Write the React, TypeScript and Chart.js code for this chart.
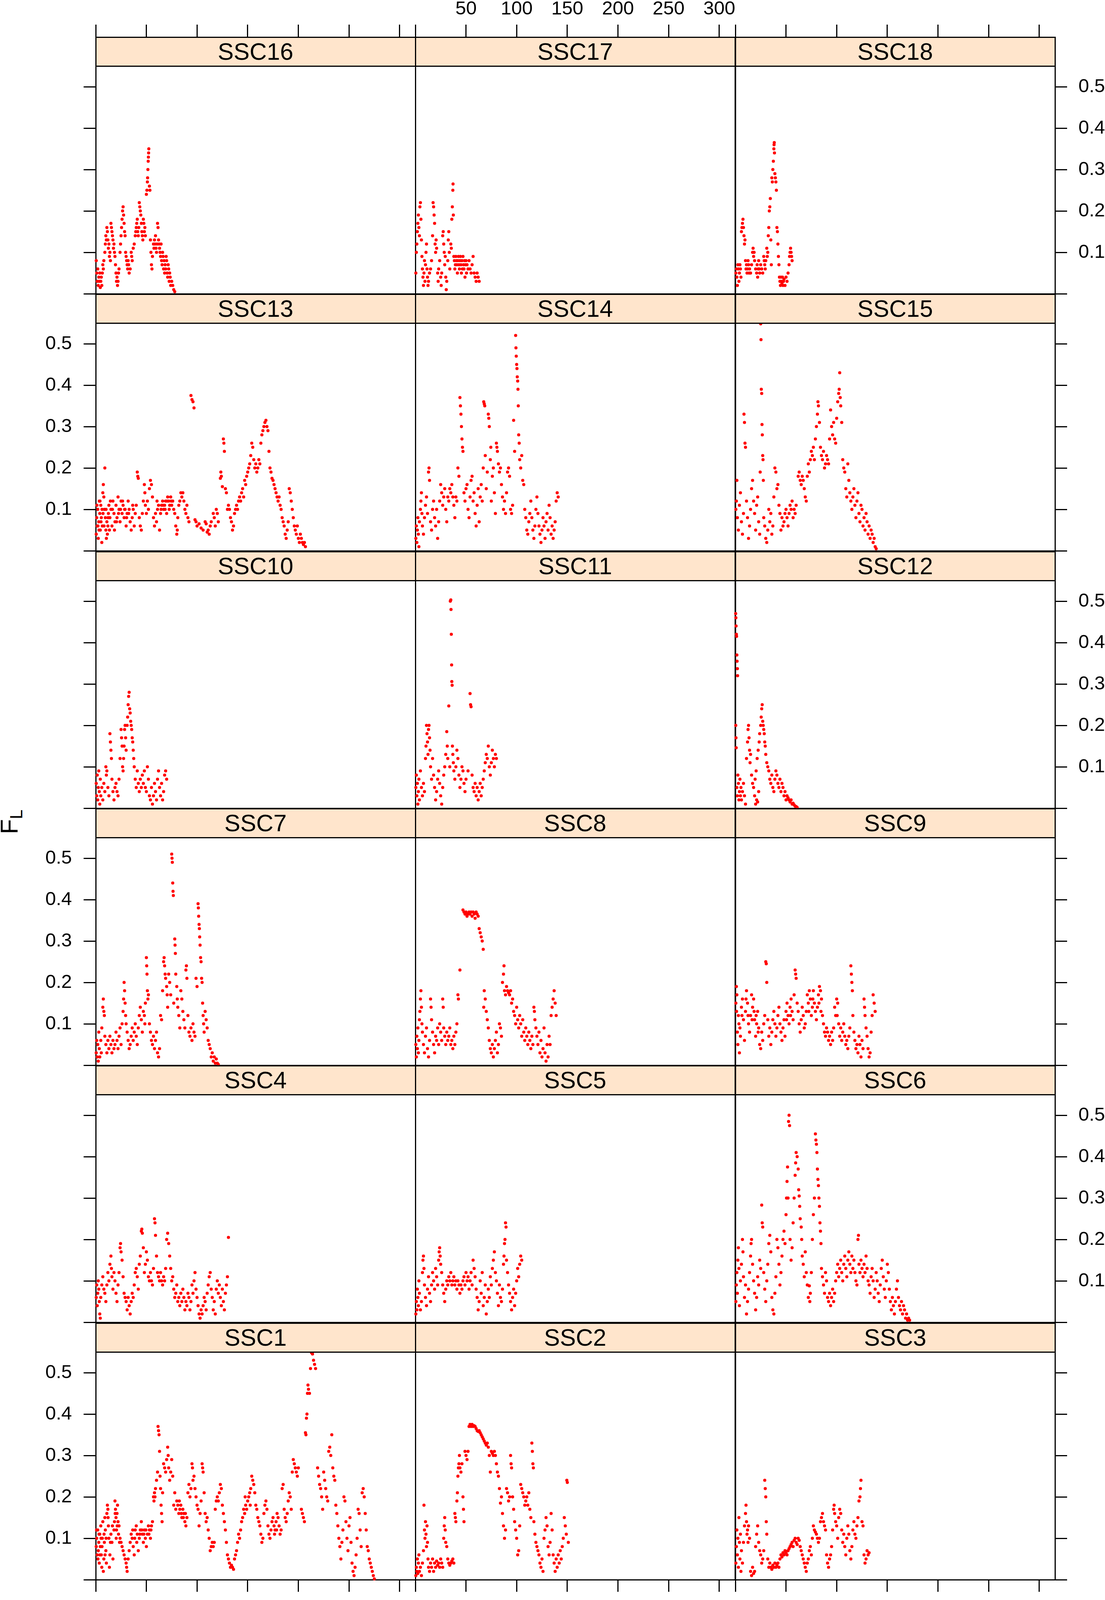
import React, { useEffect, useRef } from 'react';
import { Chart, registerables } from 'chart.js';

Chart.register(...registerables);

const FONT = "'Liberation Sans', Arial, Helvetica, sans-serif";

// tick values shared by every panel
const xTicks = [0, 50, 100, 150, 200, 250, 300];
const yTicks = [0, 0.1, 0.2, 0.3, 0.4, 0.5];

// F_L along each chromosome: [position (Mb), F_L]
const SSC16 = [[0.5,0.08],[1,0.05],[1.5,0.03],[2,0.06],[2.5,0.02],[3,0.04],[3.5,0.03],[4,0.05],[4.5,0.015],[5,0.03],[5.5,0.04],[6,0.02],[6.5,0.05],[7,0.07],[7.5,0.06],[8,0.08],[9,0.1],[9.5,0.12],[10,0.14],[10.5,0.13],[11,0.16],[11.5,0.15],[12,0.13],[12.5,0.11],[13,0.12],[13.5,0.09],[14,0.1],[14.5,0.08],[15,0.17],[15.5,0.16],[16,0.15],[16.5,0.14],[17,0.13],[17.5,0.11],[18,0.12],[18.5,0.1],[19,0.09],[19.5,0.07],[20,0.05],[20.5,0.03],[21,0.04],[21.5,0.02],[22,0.03],[22.5,0.05],[23,0.06],[24,0.1],[24.5,0.12],[25,0.14],[25.5,0.16],[26,0.18],[26.5,0.2],[27,0.21],[27.5,0.19],[28,0.17],[28.5,0.15],[29,0.14],[29.5,0.1],[30,0.09],[30.5,0.08],[31,0.07],[31.5,0.06],[32,0.08],[32.5,0.07],[33,0.05],[34,0.06],[35,0.1],[35.5,0.09],[36,0.08],[37,0.11],[38,0.12],[39,0.14],[39.5,0.15],[40,0.16],[40.5,0.17],[41,0.18],[41.5,0.15],[42,0.14],[42.5,0.16],[43,0.22],[43.5,0.21],[44,0.2],[44.5,0.19],[45,0.17],[45.5,0.15],[46,0.14],[46.5,0.13],[47,0.18],[47.5,0.17],[48,0.15],[48.5,0.16],[49,0.14],[50,0.24],[50.5,0.25],[51,0.27],[51.2,0.28],[51.5,0.3],[51.8,0.32],[52,0.33],[52.2,0.34],[52.4,0.35],[53,0.26],[53.5,0.25],[54,0.13],[54.5,0.1],[55,0.07],[55.5,0.06],[56,0.09],[57,0.12],[57.5,0.11],[58,0.13],[58.5,0.12],[59,0.14],[59.5,0.11],[60,0.1],[60.5,0.12],[61,0.17],[61.5,0.16],[62,0.13],[62.5,0.12],[63,0.11],[63.5,0.1],[64,0.09],[64.5,0.12],[65,0.08],[65.5,0.07],[66,0.1],[66.5,0.09],[67,0.06],[67.5,0.08],[68,0.05],[68.5,0.07],[69,0.06],[69.5,0.09],[70,0.08],[70.5,0.05],[71,0.04],[71.5,0.07],[72,0.06],[72.5,0.03],[73,0.05],[73.5,0.04],[74,0.02],[75,0.03],[76,0.02],[77,0.01],[78,0.005]];

const SSC17 = [[0.5,0.05],[1,0.1],[1.5,0.12],[2,0.15],[2.5,0.17],[3,0.19],[3.5,0.16],[4,0.14],[4.5,0.21],[5,0.22],[5.5,0.18],[6,0.13],[6.5,0.09],[7,0.06],[7.5,0.04],[8,0.02],[8.5,0.05],[9,0.08],[9.5,0.03],[10,0.07],[10.5,0.1],[11,0.12],[11.5,0.06],[12,0.04],[12.5,0.02],[13,0.03],[14,0.05],[15,0.06],[16,0.08],[17,0.14],[17.5,0.22],[18,0.21],[18.5,0.19],[19,0.17],[19.5,0.12],[20,0.1],[20.5,0.13],[21,0.11],[22,0.05],[22.5,0.03],[23,0.06],[24,0.08],[25,0.04],[25.5,0.02],[26,0.05],[27,0.14],[27.5,0.15],[28,0.12],[28.5,0.1],[29,0.07],[29.5,0.09],[30,0.04],[30.5,0.01],[31,0.03],[32,0.08],[32.5,0.13],[33,0.15],[33.5,0.1],[34,0.06],[35,0.12],[35.5,0.11],[36,0.18],[36.5,0.21],[37,0.25],[37.2,0.265],[37.5,0.19],[38,0.09],[38.5,0.08],[39,0.06],[39.5,0.07],[40,0.09],[40.5,0.08],[41,0.07],[41.5,0.05],[42,0.08],[42.5,0.09],[43,0.07],[43.5,0.06],[44,0.08],[44.5,0.09],[45,0.07],[45.5,0.05],[46,0.08],[46.5,0.06],[47,0.09],[47.5,0.07],[48,0.06],[48.5,0.08],[49,0.04],[49.5,0.07],[50,0.08],[50.5,0.05],[51,0.07],[52,0.06],[53,0.08],[54,0.06],[55,0.05],[56,0.07],[57,0.09],[58,0.05],[59,0.04],[60,0.03],[61,0.05],[62,0.04],[63,0.03]];

const SSC18 = [[0.5,0.05],[1,0.06],[1.5,0.04],[2,0.02],[2.5,0.07],[3,0.06],[3.5,0.03],[4,0.05],[4.5,0.07],[5,0.06],[5.5,0.04],[6,0.15],[6.5,0.16],[7,0.17],[7.5,0.18],[8,0.16],[8.5,0.14],[9,0.12],[9.5,0.13],[10,0.08],[10.5,0.06],[11,0.07],[11.5,0.05],[12,0.06],[12.5,0.08],[13,0.07],[13.5,0.05],[14,0.06],[15,0.05],[16,0.07],[17,0.1],[17.5,0.11],[18,0.09],[18.5,0.1],[19,0.08],[20,0.06],[21,0.05],[21.5,0.07],[22,0.04],[22.5,0.06],[23,0.08],[23.5,0.06],[24,0.05],[25,0.07],[26,0.06],[27,0.05],[28,0.09],[28.5,0.08],[29,0.07],[29.5,0.06],[30,0.08],[31,0.11],[31.5,0.09],[32,0.1],[32.5,0.14],[33,0.16],[33.5,0.2],[34,0.21],[34.5,0.23],[35,0.13],[35.5,0.07],[36,0.28],[36.5,0.27],[37,0.3],[37.5,0.32],[38,0.35],[38.2,0.36],[38.4,0.365],[38.6,0.34],[39,0.29],[39.5,0.28],[40,0.27],[40.5,0.25],[41,0.16],[41.5,0.15],[42,0.12],[42.5,0.09],[43,0.07],[43.5,0.04],[44,0.03],[44.5,0.02],[45,0.04],[45.5,0.03],[46,0.025],[46.5,0.04],[47,0.02],[47.5,0.03],[48,0.035],[49,0.02],[50,0.04],[51,0.03],[52,0.05],[53,0.07],[53.5,0.09],[54,0.1],[54.5,0.11],[55,0.1],[55.5,0.09],[56,0.08]];

const SSC13 = [[0.5,0.04],[1,0.08],[1.5,0.06],[2,0.1],[2.5,0.03],[3,0.07],[3.5,0.12],[4,0.09],[4.5,0.05],[5,0.11],[5.5,0.08],[6,0.02],[6.5,0.06],[7,0.14],[7.5,0.16],[8,0.13],[8.5,0.1],[9,0.2],[9.5,0.08],[10,0.05],[10.5,0.03],[11,0.07],[11.5,0.04],[12,0.06],[12.5,0.09],[13,0.11],[13.5,0.05],[14,0.08],[15,0.1],[16,0.06],[17,0.12],[18,0.09],[19,0.07],[20,0.11],[21,0.08],[22,0.13],[23,0.1],[24,0.07],[25,0.12],[26,0.09],[27,0.11],[28,0.08],[29,0.1],[30,0.06],[31,0.09],[32,0.12],[33,0.1],[34,0.07],[35,0.05],[36,0.08],[37,0.1],[38,0.06],[39,0.09],[40,0.11],[41,0.19],[41.5,0.18],[42,0.175],[43,0.08],[44,0.06],[45,0.05],[46,0.09],[47,0.12],[48,0.16],[48.5,0.14],[49,0.11],[50,0.09],[51,0.12],[52,0.1],[53,0.15],[54,0.17],[55,0.16],[56,0.13],[57,0.08],[58,0.06],[59,0.09],[60,0.07],[61,0.1],[62,0.11],[63,0.05],[64,0.09],[65,0.11],[66,0.12],[67,0.1],[68,0.11],[69,0.12],[70,0.09],[71,0.13],[72,0.12],[73,0.11],[74,0.13],[75,0.11],[76,0.12],[77,0.1],[78,0.09],[79,0.06],[80,0.04],[80.5,0.05],[81,0.08],[82,0.11],[83,0.12],[84,0.14],[85,0.13],[86,0.14],[87,0.12],[88,0.1],[89,0.09],[90,0.11],[91,0.08],[92,0.07],[94,0.375],[95,0.365],[96,0.36],[97,0.345],[98,0.075],[99,0.07],[100,0.06],[102,0.065],[104,0.055],[106,0.05],[108,0.07],[109,0.065],[110,0.045],[111,0.05],[112,0.04],[113,0.06],[114,0.07],[116,0.09],[117,0.08],[118,0.06],[119,0.1],[120,0.09],[121,0.07],[123,0.175],[123.5,0.19],[124,0.18],[125,0.155],[126,0.27],[126.5,0.26],[127,0.24],[128,0.15],[129,0.14],[130,0.1],[131,0.11],[132,0.1],[133,0.08],[134,0.07],[135,0.05],[136,0.06],[137,0.09],[138,0.1],[139,0.11],[140,0.1],[141,0.12],[142,0.13],[143,0.12],[144,0.14],[145,0.15],[146,0.13],[147,0.17],[148,0.16],[149,0.18],[150,0.19],[151,0.2],[152,0.21],[153,0.23],[154,0.26],[155,0.25],[156,0.22],[157,0.2],[158,0.21],[159,0.19],[160,0.2],[161,0.22],[162,0.21],[163,0.26],[164,0.28],[165,0.29],[166,0.3],[167,0.31],[168,0.315],[169,0.3],[170,0.29],[171,0.24],[172,0.2],[173,0.19],[174,0.175],[175,0.17],[176,0.16],[177,0.15],[178,0.14],[179,0.13],[180,0.12],[181,0.13],[182,0.11],[183,0.1],[184,0.08],[185,0.07],[186,0.06],[187,0.04],[188,0.03],[189,0.05],[190,0.07],[191,0.15],[192,0.14],[193,0.12],[194,0.1],[195,0.08],[196,0.06],[197,0.05],[198,0.04],[199,0.06],[200,0.03],[201,0.02],[202,0.04],[203,0.03],[204,0.02],[205,0.015],[206,0.02],[207,0.01],[1.2,0.11],[2.2,0.06],[3.2,0.05],[4.2,0.12],[5.2,0.07],[6.2,0.1],[7.2,0.09],[8.2,0.06],[10.2,0.1],[12.2,0.08],[14.5,0.12],[16.5,0.1],[18.5,0.05],[20.5,0.07],[22.5,0.09],[24.5,0.1],[26.5,0.12],[28.5,0.1],[30.5,0.08],[32.5,0.09],[36.5,0.11],[60.5,0.12],[64.5,0.1],[66.5,0.11],[68.5,0.1],[70.5,0.12],[72.5,0.1],[74.5,0.12]];

const SSC14 = [[0.5,0.03],[1,0.06],[1.5,0.02],[2,0.05],[2.5,0.08],[3,0.04],[3.5,0.01],[4,0.07],[5,0.1],[5.5,0.12],[6,0.14],[6.5,0.09],[7,0.06],[8,0.04],[9,0.08],[10,0.11],[11,0.13],[12,0.09],[13,0.19],[13.5,0.2],[14,0.17],[15,0.07],[16,0.05],[17,0.1],[18,0.12],[19,0.08],[20,0.06],[21,0.1],[22,0.03],[23,0.07],[24,0.12],[25,0.16],[26,0.14],[27,0.11],[28,0.13],[29,0.15],[30,0.1],[31,0.07],[32,0.13],[33,0.12],[34,0.15],[35,0.14],[36,0.16],[37,0.13],[38,0.11],[39,0.08],[40,0.13],[41,0.12],[42,0.2],[43,0.18],[44,0.37],[44.5,0.35],[45,0.33],[45.5,0.3],[46,0.27],[46.5,0.25],[47,0.24],[48,0.14],[49,0.12],[50,0.15],[51,0.16],[52,0.1],[53,0.08],[54,0.13],[55,0.17],[56,0.18],[57,0.12],[58,0.14],[59,0.09],[60,0.06],[61,0.11],[62,0.15],[63,0.07],[64,0.13],[65,0.16],[66,0.12],[67,0.2],[67.5,0.36],[68,0.355],[68.5,0.35],[69,0.23],[70,0.15],[71,0.19],[72,0.33],[72.5,0.32],[73,0.3],[74,0.22],[74.5,0.25],[75,0.12],[76,0.18],[77,0.2],[78,0.14],[79,0.09],[80,0.26],[80.5,0.25],[81,0.24],[82,0.21],[83,0.19],[84,0.2],[85,0.16],[86,0.13],[87,0.1],[88,0.12],[89,0.09],[90,0.14],[91,0.19],[92,0.2],[93,0.18],[94,0.1],[95,0.09],[96,0.11],[97,0.315],[98,0.24],[99,0.52],[99.3,0.49],[99.6,0.47],[100,0.45],[100.3,0.44],[100.6,0.42],[101,0.41],[101.3,0.39],[101.6,0.35],[102,0.28],[102.5,0.26],[103,0.22],[104,0.2],[105,0.23],[106,0.17],[107,0.16],[108,0.1],[109,0.08],[110,0.05],[111,0.04],[112,0.07],[113,0.09],[114,0.12],[115,0.08],[116,0.05],[117,0.03],[118,0.06],[119,0.1],[120,0.13],[121,0.09],[122,0.06],[123,0.04],[124,0.02],[125,0.05],[126,0.08],[127,0.06],[128,0.03],[129,0.07],[130,0.09],[131,0.05],[132,0.11],[133,0.08],[134,0.04],[135,0.06],[136,0.03],[137,0.05],[138,0.07],[139,0.12],[140,0.14],[141,0.13]];

const SSC15 = [[0.5,0.1],[1,0.12],[1.5,0.17],[2,0.08],[3,0.05],[4,0.11],[5,0.14],[6,0.07],[7,0.04],[8,0.09],[8.5,0.33],[9,0.31],[9.5,0.26],[10,0.25],[11,0.12],[12,0.08],[13,0.03],[14,0.06],[15,0.1],[16,0.15],[17,0.17],[18,0.12],[19,0.09],[20,0.05],[21,0.11],[22,0.13],[23,0.07],[24,0.04],[24.5,0.19],[25,0.548],[25.3,0.51],[25.6,0.39],[26,0.38],[26.3,0.305],[26.6,0.28],[27,0.23],[27.3,0.22],[27.6,0.17],[28,0.08],[29,0.06],[30,0.03],[31,0.02],[32,0.05],[33,0.1],[34,0.07],[35,0.09],[36,0.04],[37,0.06],[38,0.13],[39,0.2],[40,0.19],[41,0.15],[42,0.16],[43,0.11],[44,0.09],[45,0.05],[46,0.08],[47,0.06],[48,0.07],[49,0.09],[50,0.1],[51,0.08],[52,0.06],[53,0.09],[54,0.11],[55,0.1],[56,0.12],[57,0.08],[58,0.1],[59,0.09],[60,0.11],[62,0.18],[63,0.19],[64,0.17],[65,0.16],[66,0.18],[67,0.17],[68,0.15],[69,0.13],[70,0.12],[71,0.18],[72,0.21],[73,0.19],[74,0.22],[75,0.24],[76,0.23],[77,0.25],[78,0.22],[79,0.27],[80,0.3],[81,0.33],[81.5,0.36],[82,0.35],[83,0.31],[84,0.25],[85,0.23],[86,0.22],[87,0.24],[88,0.2],[89,0.21],[90,0.23],[91,0.22],[92,0.21],[93,0.27],[94,0.34],[95,0.3],[96,0.28],[97,0.31],[98,0.27],[99,0.26],[100,0.32],[101,0.36],[102,0.38],[102.5,0.39],[103,0.43],[103.5,0.37],[104,0.35],[105,0.31],[106,0.22],[107,0.2],[108,0.19],[109,0.15],[110,0.13],[111,0.21],[112,0.17],[113,0.14],[114,0.12],[115,0.1],[116,0.13],[117,0.15],[118,0.11],[119,0.08],[120,0.12],[121,0.14],[122,0.09],[123,0.07],[124,0.11],[125,0.1],[126,0.06],[127,0.08],[128,0.05],[129,0.09],[130,0.07],[131,0.04],[132,0.06],[133,0.03],[134,0.05],[135,0.04],[136,0.02],[137,0.03],[138,0.01],[139,0.005]];

const SSC10 = [[0.5,0.06],[1,0.03],[1.5,0.08],[2,0.02],[2.5,0.05],[3,0.09],[3.5,0.04],[4,0.01],[4.5,0.07],[5,0.03],[6,0.05],[7,0.02],[8,0.06],[9,0.04],[10,0.1],[10.5,0.08],[11,0.09],[12,0.05],[13,0.03],[14,0.18],[14.5,0.16],[15,0.14],[15.5,0.12],[16,0.07],[17,0.04],[18,0.02],[19,0.05],[20,0.06],[21,0.04],[22,0.03],[23,0.07],[24,0.12],[25,0.19],[25.5,0.17],[26,0.15],[26.5,0.1],[27,0.09],[27.5,0.12],[28,0.15],[28.5,0.19],[29,0.2],[29.5,0.17],[30,0.14],[31,0.2],[31.5,0.22],[32,0.25],[32.5,0.27],[33,0.28],[33.5,0.24],[34,0.23],[34.5,0.21],[35,0.2],[35.5,0.19],[36,0.17],[36.5,0.16],[37,0.14],[37.5,0.12],[38,0.1],[39,0.07],[40,0.05],[41,0.09],[42,0.06],[43,0.04],[44,0.07],[45,0.05],[46,0.08],[47,0.06],[48,0.09],[49,0.05],[50,0.04],[51,0.1],[52,0.07],[53,0.03],[54,0.02],[55,0.05],[56,0.01],[57,0.03],[58,0.06],[59,0.04],[60,0.02],[61,0.07],[62,0.09],[63,0.05],[64,0.03],[65,0.06],[66,0.02],[67,0.04],[68,0.08],[69,0.09],[70,0.07]];

const SSC11 = [[0.5,0.05],[1,0.08],[1.5,0.03],[2,0.06],[2.5,0.01],[3,0.04],[3.5,0.07],[4,0.02],[5,0.09],[6,0.05],[7,0.03],[8,0.06],[9,0.04],[10,0.12],[10.5,0.15],[11,0.2],[11.5,0.18],[12,0.16],[12.5,0.13],[13,0.19],[13.5,0.2],[14,0.17],[14.5,0.14],[15,0.1],[16,0.07],[17,0.12],[18,0.08],[19,0.05],[20,0.02],[21,0.04],[22,0.07],[23,0.09],[24,0.06],[25,0.03],[26,0.01],[27,0.05],[28,0.08],[29,0.1],[30,0.13],[31,0.185],[31.5,0.15],[32,0.12],[33,0.247],[34,0.1],[34.5,0.5],[35,0.503],[35.2,0.48],[35.5,0.42],[35.8,0.346],[36,0.306],[36.3,0.297],[36.6,0.15],[37,0.13],[37.5,0.11],[38,0.09],[39,0.07],[40,0.1],[41,0.14],[42,0.12],[43,0.08],[44,0.05],[45,0.07],[46,0.1],[47,0.09],[48,0.06],[49,0.04],[50,0.07],[52,0.09],[54,0.277],[54.5,0.25],[55,0.245],[56,0.08],[57,0.05],[58,0.04],[59,0.06],[60,0.03],[61,0.05],[62,0.02],[63,0.04],[64,0.06],[65,0.03],[66,0.05],[67,0.07],[68,0.09],[69,0.11],[70,0.13],[71,0.12],[72,0.15],[73,0.1],[74,0.08],[75,0.11],[76,0.14],[77,0.12],[78,0.1],[79,0.13],[80,0.12]];

const SSC12 = [[0.3,0.47],[0.5,0.46],[0.7,0.44],[1,0.42],[1.2,0.415],[1.5,0.37],[1.7,0.355],[2,0.337],[2.2,0.32],[0.4,0.2],[0.6,0.17],[0.8,0.146],[1.5,0.05],[2,0.03],[2.5,0.08],[3,0.06],[3.5,0.02],[4,0.04],[4.5,0.07],[5,0.03],[5.5,0.05],[6,0.02],[7,0.04],[8,0.06],[9,0.03],[10,0.01],[11,0.12],[12,0.16],[12.5,0.19],[13,0.2],[13.5,0.17],[14,0.14],[14.5,0.11],[15,0.13],[16,0.08],[17,0.06],[18,0.05],[19,0.03],[20,0.01],[21,0.02],[22,0.015],[23,0.04],[19.5,0.07],[20.5,0.09],[21.5,0.12],[22.5,0.14],[23.5,0.16],[24,0.18],[25,0.2],[25.5,0.22],[26,0.24],[26.5,0.25],[27,0.21],[27.5,0.2],[28,0.19],[28.5,0.18],[29,0.16],[29.5,0.15],[30,0.13],[31,0.11],[32,0.1],[33,0.09],[34,0.07],[35,0.06],[36,0.08],[37,0.05],[38,0.04],[39,0.07],[40,0.09],[41,0.08],[42,0.06],[43,0.05],[44,0.07],[45,0.04],[46,0.06],[47,0.05],[48,0.03],[49,0.04],[50,0.02],[51,0.03],[52,0.025],[53,0.02],[54,0.015],[55,0.02],[56,0.01],[57,0.012],[58,0.008],[59,0.005],[60,0.004],[61,0.002]];

const SSC7 = [[0.5,0.03],[1,0.06],[1.5,0.02],[2,0.05],[2.5,0.01],[3,0.08],[3.5,0.04],[4,0.02],[5,0.06],[5.5,0.03],[6,0.09],[7,0.14],[7.5,0.16],[8,0.13],[8.5,0.12],[9,0.07],[10,0.05],[11,0.03],[12,0.06],[13,0.04],[14,0.07],[15,0.05],[16,0.03],[17,0.06],[18,0.04],[19,0.05],[20,0.08],[21,0.06],[22,0.04],[23,0.07],[24,0.09],[25,0.05],[26,0.1],[27,0.13],[27.5,0.16],[28,0.2],[28.5,0.18],[29,0.15],[29.5,0.12],[30,0.1],[31,0.08],[32,0.06],[33,0.04],[34,0.05],[35,0.07],[36,0.09],[37,0.06],[38,0.08],[39,0.1],[40,0.07],[41,0.05],[42,0.09],[43,0.12],[44,0.14],[45,0.11],[46,0.08],[47,0.13],[48,0.12],[48.5,0.1],[49,0.15],[50,0.26],[50.3,0.24],[50.6,0.22],[51,0.18],[51.5,0.16],[52,0.17],[53,0.1],[54,0.08],[55,0.06],[56,0.05],[57,0.07],[58,0.04],[59,0.06],[60,0.08],[61,0.03],[62,0.02],[63,0.04],[64,0.12],[65,0.11],[66,0.18],[67,0.25],[67.5,0.26],[68,0.24],[68.5,0.22],[69,0.21],[70,0.19],[70.5,0.17],[71,0.14],[72,0.22],[73,0.2],[74,0.17],[75,0.51],[75.3,0.5],[75.6,0.49],[76,0.44],[76.3,0.42],[76.6,0.41],[77,0.15],[78,0.305],[78.3,0.29],[78.6,0.27],[79,0.22],[80,0.19],[80.5,0.16],[81,0.14],[82,0.12],[83,0.09],[84,0.18],[85,0.16],[86,0.13],[87,0.11],[88,0.09],[89,0.23],[89.5,0.24],[90,0.21],[91,0.12],[92,0.08],[93,0.07],[94,0.09],[95,0.06],[96,0.1],[97,0.08],[98,0.07],[99,0.21],[100,0.19],[101,0.39],[101.3,0.38],[101.6,0.36],[102,0.34],[102.3,0.33],[102.6,0.31],[103,0.29],[103.5,0.26],[104,0.25],[104.5,0.21],[105,0.2],[105.5,0.15],[106,0.12],[106.5,0.1],[107,0.08],[108,0.13],[109,0.11],[110,0.09],[111,0.06],[112,0.05],[113,0.04],[114,0.02],[115,0.03],[116,0.01],[117,0.02],[118,0.005],[119,0.015],[120,0.005],[121,0.002]];

const SSC8 = [[0.5,0.05],[1,0.02],[1.5,0.07],[2,0.04],[2.5,0.09],[3,0.03],[3.5,0.06],[4,0.11],[4.5,0.13],[5,0.16],[5.5,0.18],[6,0.14],[6.5,0.1],[7,0.08],[8,0.05],[9,0.03],[10,0.07],[11,0.09],[12,0.04],[13,0.02],[14,0.06],[15,0.16],[15.5,0.14],[16,0.11],[17,0.08],[18,0.05],[19,0.03],[20,0.07],[21,0.06],[22,0.09],[23,0.05],[24,0.1],[25,0.08],[26,0.06],[27,0.16],[27.5,0.14],[28,0.09],[29,0.07],[30,0.05],[31,0.08],[32,0.06],[33,0.07],[34,0.09],[35,0.05],[36,0.06],[37,0.04],[38,0.07],[39,0.05],[40,0.08],[41,0.1],[42,0.17],[42.5,0.16],[44,0.23],[47,0.375],[48,0.37],[49,0.365],[50,0.37],[51,0.36],[52,0.365],[53,0.37],[54,0.365],[55,0.37],[56,0.36],[57,0.37],[58,0.365],[59,0.355],[60,0.37],[61,0.365],[62,0.36],[63,0.33],[64,0.32],[65,0.31],[66,0.3],[67,0.28],[67.5,0.14],[68,0.18],[69,0.16],[70,0.13],[71,0.11],[72,0.09],[73,0.06],[74,0.04],[75,0.03],[76,0.05],[77,0.02],[78,0.04],[79,0.06],[80,0.08],[81,0.03],[82,0.05],[83,0.1],[84,0.09],[85,0.07],[86,0.2],[87,0.22],[87.5,0.24],[88,0.18],[89,0.17],[90,0.19],[91,0.18],[92,0.175],[93,0.17],[94,0.18],[95,0.15],[96,0.16],[97,0.13],[98,0.12],[99,0.1],[100,0.14],[101,0.11],[102,0.09],[103,0.12],[104,0.1],[105,0.07],[106,0.11],[107,0.08],[108,0.06],[109,0.09],[110,0.07],[111,0.05],[112,0.08],[113,0.06],[114,0.04],[115,0.07],[116,0.05],[117,0.14],[117.5,0.13],[118,0.11],[119,0.09],[120,0.07],[121,0.05],[122,0.08],[123,0.03],[124,0.06],[125,0.02],[126,0.04],[127,0.09],[128,0.03],[129,0.01],[130,0.05],[131,0.02],[132,0.07],[133,0.05],[134,0.12],[135,0.14],[136,0.16],[137,0.18],[138,0.15],[139,0.12]];

const SSC9 = [[0.5,0.15],[1,0.19],[1.5,0.17],[2,0.08],[2.5,0.05],[3,0.12],[3.5,0.1],[4,0.03],[5,0.07],[6,0.14],[7,0.16],[8,0.11],[9,0.06],[10,0.13],[11,0.18],[12,0.15],[13,0.1],[14,0.08],[15,0.12],[16,0.17],[17,0.14],[18,0.16],[19,0.11],[20,0.07],[21,0.1],[22,0.13],[23,0.09],[24,0.05],[25,0.04],[26,0.08],[27,0.06],[28,0.1],[29,0.12],[30,0.25],[30.5,0.245],[31,0.2],[32,0.11],[33,0.07],[34,0.09],[35,0.05],[36,0.08],[37,0.11],[38,0.13],[39,0.1],[40,0.07],[41,0.09],[42,0.12],[43,0.14],[44,0.1],[45,0.08],[46,0.06],[47,0.09],[48,0.11],[49,0.07],[50,0.13],[51,0.15],[52,0.12],[53,0.1],[54,0.14],[55,0.16],[56,0.13],[57,0.11],[58,0.17],[59,0.23],[59.5,0.22],[60,0.21],[61,0.15],[62,0.13],[63,0.1],[64,0.08],[65,0.11],[66,0.14],[67,0.12],[68,0.09],[69,0.1],[70,0.13],[71,0.17],[72,0.15],[73,0.18],[74,0.16],[75,0.12],[76,0.14],[77,0.18],[78,0.15],[79,0.13],[80,0.11],[81,0.14],[82,0.17],[83,0.19],[84,0.18],[85,0.16],[86,0.12],[87,0.1],[88,0.08],[89,0.07],[90,0.09],[91,0.08],[92,0.06],[93,0.07],[94,0.05],[95,0.08],[96,0.06],[97,0.09],[98,0.14],[99,0.12],[100,0.16],[101,0.15],[102,0.1],[103,0.07],[104,0.09],[105,0.06],[106,0.08],[107,0.1],[108,0.07],[109,0.05],[110,0.06],[111,0.04],[112,0.07],[113,0.09],[114,0.24],[114.5,0.22],[115,0.2],[115.5,0.18],[116,0.12],[117,0.08],[118,0.06],[119,0.04],[120,0.05],[121,0.03],[122,0.07],[123,0.05],[124,0.02],[125,0.06],[126,0.04],[127,0.16],[127.5,0.14],[128,0.12],[129,0.09],[130,0.07],[131,0.04],[132,0.02],[133,0.03],[134,0.08],[135,0.12],[136,0.17],[137,0.15],[138,0.13],[1.2,0.13],[4.5,0.09],[6.5,0.12],[10.5,0.16],[12.5,0.12],[16.5,0.11],[18.5,0.13],[20.5,0.12],[22.5,0.08],[50.5,0.11],[54.5,0.12],[72.5,0.13],[76.5,0.16],[82.5,0.15],[84.5,0.13],[100.5,0.12]];

const SSC4 = [[0.5,0.06],[1,0.09],[1.5,0.04],[2,0.07],[2.5,0.1],[3,0.08],[3.5,0.05],[4,0.02],[4.5,0.01],[5,0.06],[6,0.09],[7,0.11],[8,0.08],[9,0.07],[10,0.05],[11,0.09],[12,0.12],[13,0.1],[14,0.14],[15,0.16],[15.5,0.13],[16,0.11],[17,0.08],[18,0.12],[19,0.1],[20,0.07],[21,0.05],[22,0.09],[23,0.12],[24,0.18],[24.5,0.19],[25,0.17],[26,0.15],[27,0.11],[28,0.07],[29,0.06],[30,0.05],[31,0.03],[32,0.06],[33,0.04],[34,0.02],[35,0.05],[36,0.07],[37,0.06],[38,0.09],[39,0.12],[40,0.13],[41,0.11],[42,0.08],[43,0.14],[44,0.16],[45,0.22],[45.5,0.225],[46,0.215],[47,0.18],[48,0.12],[49,0.14],[50,0.17],[51,0.15],[52,0.11],[53,0.1],[54,0.12],[55,0.1],[56,0.09],[57,0.13],[58,0.25],[58.5,0.24],[59,0.21],[60,0.16],[61,0.12],[62,0.11],[63,0.1],[64,0.12],[65,0.1],[66,0.09],[67,0.11],[68,0.1],[69,0.13],[70,0.2],[71,0.215],[72,0.19],[73,0.16],[74,0.13],[75,0.1],[76,0.11],[77,0.08],[78,0.06],[79,0.07],[80,0.09],[81,0.05],[82,0.06],[83,0.04],[84,0.07],[85,0.05],[86,0.08],[87,0.06],[88,0.03],[89,0.05],[90,0.04],[91,0.07],[92,0.06],[93,0.03],[94,0.05],[95,0.09],[96,0.07],[97,0.1],[98,0.12],[99,0.08],[100,0.06],[101,0.04],[102,0.02],[103,0.01],[104,0.03],[105,0.02],[106,0.04],[107,0.06],[108,0.05],[109,0.03],[110,0.07],[111,0.09],[112,0.11],[113,0.12],[114,0.08],[115,0.06],[116,0.03],[117,0.05],[118,0.02],[119,0.08],[120,0.1],[121,0.07],[122,0.09],[123,0.06],[124,0.04],[125,0.08],[126,0.05],[127,0.03],[128,0.07],[129,0.09],[130,0.11],[131,0.205]];

const SSC5 = [[0.5,0.02],[1,0.05],[1.5,0.03],[2,0.08],[2.5,0.06],[3,0.04],[3.5,0.1],[4,0.07],[5,0.03],[6,0.05],[7,0.12],[7.5,0.15],[8,0.16],[8.5,0.13],[9,0.09],[10,0.06],[11,0.04],[12,0.08],[13,0.11],[14,0.07],[15,0.05],[16,0.09],[17,0.12],[18,0.1],[19,0.08],[20,0.13],[21,0.11],[22,0.09],[23,0.15],[23.5,0.17],[24,0.18],[24.5,0.16],[25,0.14],[26,0.12],[27,0.09],[28,0.07],[29,0.05],[30,0.08],[31,0.1],[32,0.09],[33,0.11],[34,0.1],[35,0.12],[36,0.09],[37,0.1],[38,0.11],[39,0.09],[40,0.1],[41,0.08],[42,0.1],[43,0.09],[44,0.07],[45,0.09],[46,0.08],[47,0.1],[48,0.11],[49,0.09],[50,0.12],[51,0.1],[52,0.11],[53,0.08],[54,0.1],[55,0.12],[56,0.09],[57,0.15],[58,0.13],[59,0.11],[60,0.08],[61,0.06],[62,0.03],[63,0.05],[64,0.1],[65,0.07],[66,0.12],[67,0.04],[68,0.06],[69,0.09],[70,0.02],[71,0.05],[72,0.08],[73,0.06],[74,0.11],[75,0.09],[76,0.13],[77,0.15],[78,0.17],[79,0.12],[80,0.1],[81,0.07],[82,0.04],[83,0.09],[84,0.06],[85,0.05],[86,0.08],[87,0.14],[87.5,0.16],[88,0.19],[88.5,0.2],[89,0.24],[89.5,0.23],[90,0.15],[91,0.12],[92,0.09],[93,0.07],[94,0.05],[95,0.03],[96,0.06],[97,0.08],[98,0.04],[99,0.07],[100,0.1],[101,0.13],[102,0.11],[103,0.14],[104,0.16],[105,0.15]];

const SSC6 = [[0.5,0.05],[1,0.09],[1.5,0.12],[2,0.07],[2.5,0.15],[3,0.18],[3.5,0.13],[4,0.04],[5,0.1],[6,0.14],[7,0.2],[7.5,0.17],[8,0.11],[9,0.06],[10,0.09],[11,0.02],[12,0.05],[13,0.08],[14,0.12],[15,0.16],[15.5,0.19],[16,0.2],[17,0.14],[18,0.1],[19,0.07],[20,0.03],[21,0.06],[22,0.11],[23,0.09],[24,0.15],[25,0.13],[26,0.283],[26.5,0.24],[27,0.23],[28,0.12],[29,0.08],[30,0.05],[31,0.1],[32,0.14],[33,0.19],[34,0.21],[35,0.17],[36,0.06],[37,0.03],[38,0.02],[39,0.07],[40,0.11],[41,0.2],[42,0.18],[43,0.14],[44,0.09],[45,0.12],[46,0.16],[47,0.2],[48,0.22],[49,0.19],[50,0.26],[50.5,0.3],[51,0.34],[51.5,0.375],[52,0.3],[52.5,0.485],[53,0.5],[53.5,0.475],[54,0.2],[55,0.15],[56,0.18],[57,0.24],[58,0.3],[59,0.355],[59.5,0.385],[60,0.41],[61,0.4],[62,0.37],[62.5,0.32],[63,0.305],[63.5,0.28],[64,0.25],[65,0.23],[65.5,0.2],[66,0.16],[67,0.14],[68,0.11],[69,0.17],[70,0.12],[71,0.09],[72,0.06],[73,0.088],[73.5,0.05],[74,0.07],[75,0.12],[76,0.2],[77,0.26],[78,0.3],[79,0.455],[79.5,0.44],[80,0.43],[80.5,0.41],[81,0.37],[81.5,0.345],[82,0.33],[82.5,0.3],[83,0.28],[83.5,0.24],[84,0.22],[84.5,0.19],[85,0.13],[86,0.11],[87,0.09],[88,0.07],[89,0.12],[90,0.1],[91,0.06],[92,0.05],[93,0.07],[94,0.04],[95,0.06],[96,0.08],[97,0.05],[98,0.07],[99,0.1],[100,0.12],[101,0.14],[102,0.11],[103,0.13],[104,0.15],[105,0.12],[106,0.1],[107,0.14],[108,0.16],[109,0.13],[110,0.11],[111,0.15],[112,0.17],[113,0.14],[114,0.12],[115,0.16],[116,0.13],[117,0.15],[118,0.12],[119,0.1],[120,0.09],[121,0.2],[121.5,0.21],[122,0.14],[123,0.12],[124,0.15],[125,0.13],[126,0.11],[127,0.14],[128,0.12],[129,0.16],[130,0.13],[131,0.1],[132,0.09],[133,0.07],[134,0.11],[135,0.13],[136,0.1],[137,0.06],[138,0.08],[139,0.12],[140,0.1],[141,0.07],[142,0.05],[143,0.09],[144,0.13],[145,0.15],[146,0.11],[147,0.08],[148,0.06],[149,0.1],[150,0.14],[151,0.12],[152,0.08],[153,0.05],[154,0.03],[155,0.06],[156,0.04],[157,0.02],[158,0.05],[159,0.08],[160,0.1],[161,0.06],[162,0.04],[163,0.03],[164,0.05],[165,0.02],[166,0.04],[167,0.03],[168,0.01],[169,0.02],[170,0.005],[171,0.01],[172,0.005]];

const SSC1 = [[0.5,0.08],[1,0.1],[1.5,0.06],[2,0.12],[2.5,0.07],[3,0.09],[3.5,0.04],[4,0.11],[4.5,0.08],[5,0.13],[5.5,0.06],[6,0.03],[6.5,0.1],[7,0.14],[7.5,0.02],[8,0.05],[8.5,0.09],[9,0.15],[9.5,0.12],[10,0.07],[10.5,0.04],[11,0.16],[11.5,0.18],[12,0.17],[12.5,0.13],[13,0.1],[13.5,0.03],[14,0.06],[15,0.11],[16,0.09],[17,0.05],[18,0.12],[18.5,0.14],[19,0.19],[19.5,0.17],[20,0.15],[20.5,0.12],[21,0.16],[21.5,0.18],[22,0.14],[22.5,0.11],[23,0.13],[24,0.1],[25,0.09],[26,0.08],[27,0.07],[28,0.06],[29,0.05],[30,0.04],[30.5,0.03],[31,0.02],[32,0.05],[33,0.07],[34,0.09],[35,0.11],[36,0.1],[37,0.08],[38,0.06],[39,0.12],[40,0.13],[41,0.11],[42,0.07],[43,0.1],[44,0.12],[45,0.14],[46,0.11],[47,0.09],[48,0.12],[49,0.1],[50,0.08],[51,0.11],[52,0.13],[53,0.12],[54,0.1],[55,0.13],[56,0.14],[57,0.2],[57.5,0.19],[58,0.21],[58.5,0.2],[59,0.22],[60,0.24],[61,0.26],[61.5,0.37],[62,0.36],[62.5,0.35],[63,0.31],[63.5,0.25],[64,0.22],[64.5,0.18],[65,0.16],[65.5,0.14],[66,0.21],[67,0.28],[68,0.27],[69,0.26],[70,0.29],[71,0.32],[71.5,0.3],[72,0.27],[73,0.24],[74,0.26],[75,0.29],[76,0.25],[77,0.18],[78,0.21],[79,0.17],[80,0.19],[81,0.18],[82,0.16],[83,0.17],[84,0.18],[85,0.15],[86,0.17],[87,0.16],[88,0.14],[89,0.13],[90,0.15],[91,0.21],[92,0.23],[93,0.2],[94,0.22],[95,0.28],[95.5,0.27],[96,0.24],[97,0.25],[98,0.22],[99,0.2],[100,0.18],[101,0.17],[102,0.13],[103,0.16],[104,0.19],[105,0.28],[105.5,0.27],[106,0.26],[107,0.21],[108,0.16],[109,0.14],[110,0.15],[111,0.12],[112,0.1],[113,0.07],[114,0.08],[115,0.09],[116,0.08],[117,0.09],[118,0.17],[119,0.19],[120,0.2],[121,0.19],[122,0.21],[123,0.23],[124,0.22],[125,0.18],[126,0.16],[127,0.14],[128,0.12],[129,0.09],[130,0.06],[131,0.05],[132,0.04],[133,0.03],[134,0.035],[135,0.03],[136,0.025],[137,0.05],[138,0.06],[139,0.07],[140,0.09],[141,0.11],[142,0.1],[143,0.12],[144,0.14],[145,0.15],[146,0.17],[147,0.16],[148,0.18],[149,0.17],[150,0.19],[151,0.2],[152,0.21],[153,0.22],[154,0.25],[155,0.24],[156,0.23],[157,0.21],[158,0.18],[159,0.17],[160,0.15],[161,0.14],[162,0.13],[163,0.11],[164,0.09],[165,0.1],[166,0.16],[167,0.18],[168,0.19],[169,0.17],[170,0.13],[171,0.11],[172,0.1],[173,0.12],[174,0.14],[175,0.15],[176,0.13],[177,0.12],[178,0.14],[179,0.16],[180,0.15],[181,0.13],[182,0.11],[183,0.12],[184,0.22],[185,0.23],[186,0.17],[187,0.15],[188,0.14],[189,0.16],[190,0.19],[191,0.21],[192,0.2],[193,0.17],[194,0.26],[195,0.29],[196,0.28],[197,0.27],[198,0.26],[199,0.25],[200,0.27],[203,0.17],[204,0.16],[205,0.15],[206,0.14],[207,0.355],[207.5,0.35],[208,0.39],[208.5,0.4],[209,0.45],[209.5,0.47],[210,0.46],[211,0.45],[212,0.51],[213,0.548],[214,0.545],[215,0.53],[216,0.52],[217,0.51],[219,0.27],[220,0.25],[221,0.23],[222,0.22],[223,0.2],[224,0.17],[225,0.26],[226,0.24],[227,0.22],[228,0.2],[229,0.19],[230,0.31],[231,0.32],[232,0.3],[233,0.35],[234,0.27],[235,0.25],[236,0.24],[237,0.18],[238,0.16],[239,0.13],[240,0.1],[241,0.08],[242,0.05],[243,0.09],[244,0.12],[245,0.2],[246,0.19],[247,0.14],[248,0.1],[249,0.07],[250,0.13],[251,0.15],[252,0.09],[253,0.04],[254,0.02],[255,0.01],[256,0.03],[257,0.06],[258,0.1],[259,0.17],[260,0.16],[261,0.12],[262,0.08],[263,0.21],[264,0.22],[265,0.2],[266,0.16],[267,0.12],[268,0.08],[269,0.07],[270,0.05],[271,0.04],[272,0.03],[273,0.02],[274,0.01],[275,0.002],[0.8,0.12],[2.2,0.05],[3.2,0.11],[4.2,0.06],[5.2,0.1],[6.2,0.08],[8.2,0.11],[9.2,0.06],[10.2,0.1],[12.2,0.15],[14.5,0.09],[16.5,0.13],[19.2,0.16],[20.2,0.1],[21.2,0.13],[23.5,0.09],[36.5,0.12],[38.5,0.1],[40.5,0.09],[43.5,0.11],[45.5,0.12],[47.5,0.11],[49.5,0.12],[52.5,0.11],[54.5,0.12],[82.5,0.19],[84.5,0.16],[86.5,0.15],[88.5,0.16],[147.5,0.2],[152.5,0.18],[176.5,0.11],[178.5,0.12]];

const SSC2 = [[0.5,0.01],[1,0.03],[1.5,0.02],[2,0.05],[2.5,0.015],[3,0.04],[3.5,0.06],[4,0.02],[5,0.03],[6,0.01],[7,0.04],[8,0.07],[8.5,0.18],[9,0.12],[9.5,0.1],[10,0.14],[10.5,0.11],[11,0.08],[11.5,0.13],[12,0.09],[12.5,0.05],[13,0.03],[14,0.02],[15,0.04],[16,0.03],[17,0.05],[18,0.02],[19,0.04],[20,0.03],[21,0.045],[22,0.035],[23,0.04],[24,0.03],[25,0.05],[26,0.04],[27,0.03],[28,0.1],[28.5,0.13],[29,0.15],[29.5,0.12],[30,0.09],[31,0.08],[32,0.05],[33,0.04],[34,0.035],[35,0.04],[36,0.045],[37,0.05],[38,0.04],[39,0.16],[39.5,0.15],[40,0.14],[41,0.19],[41.5,0.21],[42,0.25],[42.5,0.27],[43,0.28],[43.5,0.3],[44,0.27],[45,0.26],[46,0.28],[47,0.2],[47.5,0.17],[48,0.14],[49,0.31],[50,0.3],[51,0.29],[52,0.31],[53,0.37],[54,0.375],[55,0.37],[56,0.375],[57,0.37],[58,0.372],[59,0.37],[60,0.365],[61,0.36],[62,0.358],[63,0.36],[64,0.355],[65,0.35],[66,0.345],[67,0.34],[68,0.335],[69,0.33],[70,0.325],[71,0.33],[72,0.32],[73,0.3],[74,0.26],[75,0.31],[76,0.305],[77,0.3],[78,0.31],[79,0.3],[80,0.28],[81,0.26],[82,0.25],[83,0.22],[84,0.185],[85,0.2],[86,0.16],[87,0.13],[88,0.1],[89,0.12],[90,0.22],[91,0.21],[92,0.19],[93,0.2],[94,0.3],[94.5,0.28],[95,0.27],[96,0.2],[97,0.17],[98,0.14],[99,0.12],[100,0.1],[101,0.06],[102,0.07],[103,0.13],[104,0.23],[105,0.22],[106,0.21],[107,0.2],[108,0.18],[109,0.19],[110,0.2],[111,0.18],[112,0.21],[113,0.17],[114,0.15],[115,0.33],[115.5,0.31],[116,0.28],[116.5,0.27],[117,0.14],[118,0.11],[119,0.09],[120,0.08],[121,0.07],[122,0.06],[123,0.04],[124,0.03],[125,0.05],[126,0.02],[127,0.1],[128,0.12],[129,0.15],[130,0.13],[131,0.08],[132,0.06],[133,0.09],[134,0.16],[135,0.12],[136,0.06],[137,0.04],[138,0.02],[139,0.05],[140,0.03],[141,0.06],[142,0.04],[143,0.07],[144,0.05],[145,0.08],[146,0.1],[147,0.15],[148,0.13],[149,0.11],[149.5,0.24],[150,0.235],[151,0.09]];

const SSC3 = [[0.5,0.04],[1,0.08],[1.5,0.12],[2,0.06],[2.5,0.1],[3,0.03],[3.5,0.15],[4,0.09],[4.5,0.05],[5,0.11],[5.5,0.02],[6,0.07],[7,0.04],[8,0.09],[9,0.13],[10,0.16],[10.5,0.18],[11,0.14],[11.5,0.11],[12,0.12],[12.5,0.09],[13,0.13],[14,0.1],[15,0.02],[16,0.01],[17,0.03],[18,0.015],[19,0.02],[20,0.08],[21,0.11],[22,0.13],[23,0.09],[24,0.07],[25,0.06],[26,0.04],[27,0.05],[28,0.07],[29,0.24],[29.5,0.22],[30,0.2],[30.5,0.14],[31,0.11],[32,0.05],[33,0.03],[34,0.04],[35,0.03],[36,0.025],[37,0.035],[38,0.03],[39,0.04],[40,0.03],[41,0.035],[42,0.04],[43,0.03],[44,0.05],[45,0.06],[46,0.055],[47,0.065],[48,0.06],[49,0.07],[50,0.065],[51,0.06],[52,0.07],[53,0.075],[54,0.08],[55,0.085],[56,0.09],[57,0.08],[58,0.095],[59,0.1],[60,0.09],[61,0.085],[62,0.1],[63,0.095],[64,0.08],[65,0.07],[66,0.06],[67,0.05],[68,0.04],[69,0.03],[70,0.02],[71,0.04],[72,0.05],[73,0.07],[74,0.08],[75,0.06],[76,0.1],[77,0.13],[78,0.12],[79,0.115],[80,0.11],[81,0.1],[82,0.09],[83,0.1],[84,0.14],[85,0.15],[86,0.16],[87,0.14],[88,0.13],[89,0.12],[90,0.06],[91,0.04],[92,0.03],[93,0.05],[94,0.06],[95,0.08],[96,0.12],[97,0.17],[97.5,0.18],[98,0.16],[99,0.14],[100,0.13],[101,0.1],[102,0.15],[103,0.17],[104,0.16],[105,0.12],[106,0.09],[107,0.11],[108,0.08],[109,0.06],[110,0.1],[111,0.13],[112,0.11],[113,0.07],[114,0.05],[115,0.08],[116,0.12],[117,0.14],[118,0.11],[119,0.1],[120,0.13],[121,0.15],[122,0.19],[123,0.2],[123.5,0.22],[124,0.24],[125,0.14],[126,0.13],[127,0.06],[128,0.04],[129,0.05],[130,0.07],[131,0.06],[132,0.065]];

// panel order, top row first, as laid out on the page
const panelNames = ['SSC16', 'SSC17', 'SSC18', 'SSC13', 'SSC14', 'SSC15', 'SSC10', 'SSC11', 'SSC12', 'SSC7', 'SSC8', 'SSC9', 'SSC4', 'SSC5', 'SSC6', 'SSC1', 'SSC2', 'SSC3'];
const panelSeries = [SSC16, SSC17, SSC18, SSC13, SSC14, SSC15, SSC10, SSC11, SSC12, SSC7, SSC8, SSC9, SSC4, SSC5, SSC6, SSC1, SSC2, SSC3];

// layout (page pixels)
const COL_LEFT = [245, 1063, 1882];
const PANEL_W = 818;
const PANEL_H = 583;
const STRIP_H = 75;
const FIRST_PANEL_TOP = 169;
const ROW_STEP = 658.33;
const M = 200; // room around each panel for ticks and labels
const TICK = 31;

function makeAxis(kind: 'x' | 'y', position: string, ticksOn: boolean, labelsOn: boolean, tickLength: number, padding: number) {
  const values = kind === 'x' ? xTicks : yTicks;
  return {
    type: 'linear',
    position,
    min: 0,
    max: kind === 'x' ? 315.5 : 0.55,
    afterBuildTicks: (scale: any) => {
      scale.ticks = values.map((v) => ({ value: v }));
    },
    afterFit: (scale: any) => {
      if (kind === 'x') scale.height = M;
      else scale.width = M;
    },
    grid: {
      display: true,
      drawOnChartArea: false,
      drawTicks: ticksOn,
      tickLength,
      color: '#000',
      lineWidth: 3,
      tickWidth: 3,
    },
    border: { display: true, color: '#000', width: 3 },
    ticks: {
      display: true,
      padding,
      color: '#000',
      autoSkip: false,
      maxRotation: 0,
      minRotation: 0,
      font: { family: FONT, size: 49 },
      callback: (v: number) => {
        if (!labelsOn || v === 0) return '';
        return kind === 'x' ? String(v) : v.toFixed(1);
      },
    },
  };
}

function Panel({ index }: { index: number }) {
  const canvasRef = useRef<HTMLCanvasElement | null>(null);
  const row = Math.floor(index / 3);
  const col = index % 3;
  const panelTop = Math.round(FIRST_PANEL_TOP + row * ROW_STEP);
  const left = COL_LEFT[col];

  useEffect(() => {
    if (!canvasRef.current) return;
    const isTop = row === 0;
    const isBottom = row === 5;
    const isLeft = col === 0;
    const isRight = col === 2;

    const chart = new Chart(canvasRef.current, {
      type: 'scatter',
      data: {
        datasets: [
          {
            data: panelSeries[index].map(([x, y]) => ({ x, y })),
            pointRadius: 4,
            pointBackgroundColor: '#ff0000',
            pointBorderWidth: 0,
            showLine: false,
            clip: false,
          } as any,
        ],
      },
      options: {
        animation: false,
        responsive: false,
        devicePixelRatio: 1,
        events: [],
        layout: { padding: 0, autoPadding: false },
        plugins: { legend: { display: false }, tooltip: { enabled: false } },
        scales: {
          x: makeAxis('x', 'bottom', isBottom, isBottom && col !== 1, TICK, 16),
          x2: makeAxis('x', 'top', isTop, isTop && col === 1, TICK + STRIP_H, 10),
          y: makeAxis('y', 'left', isLeft, isLeft && row % 2 === 1, TICK, 30),
          y2: makeAxis('y', 'right', isRight, isRight && row % 2 === 0, TICK, 29),
        } as any,
      },
    });
    return () => chart.destroy();
  }, []);

  return (
    <>
      <canvas
        ref={canvasRef}
        width={PANEL_W + 2 * M}
        height={PANEL_H + 2 * M}
        style={{ position: 'absolute', left: left - M, top: panelTop - M, width: PANEL_W + 2 * M, height: PANEL_H + 2 * M, zIndex: 1 }}
      />
      <div
        style={{
          position: 'absolute',
          left: left - 1.5,
          top: panelTop - STRIP_H,
          width: PANEL_W + 3,
          height: STRIP_H + 1.5,
          boxSizing: 'border-box',
          border: '3px solid #000',
          background: '#ffe5cc',
          zIndex: 2,
          fontFamily: FONT,
          fontSize: 61,
          lineHeight: `${STRIP_H - 4.5}px`,
          textAlign: 'center',
          color: '#000',
        }}
      >
        {panelNames[index]}
      </div>
    </>
  );
}

export default function App() {
  return (
    <div style={{ position: 'absolute', left: 0, top: 0, width: 2828, height: 4258, background: '#fff', overflow: 'hidden' }}>
      {panelNames.map((name, i) => (
        <Panel key={name} index={i} />
      ))}
      <div
        style={{
          position: 'absolute',
          left: 1465 - 400,
          width: 800,
          top: 4192,
          fontFamily: FONT,
          fontSize: 60,
          lineHeight: '60px',
          textAlign: 'center',
          color: '#000',
        }}
      >
        Position (Mb)
      </div>
      <div
        style={{
          position: 'absolute',
          left: 23 - 100,
          top: 2104 - 40,
          width: 200,
          height: 80,
          transform: 'rotate(-90deg)',
          fontFamily: FONT,
          fontSize: 63,
          lineHeight: '80px',
          textAlign: 'center',
          color: '#000',
          whiteSpace: 'nowrap',
        }}
      >
        F<span style={{ fontSize: 44, position: 'relative', top: 12 }}>L</span>
      </div>
    </div>
  );
}
